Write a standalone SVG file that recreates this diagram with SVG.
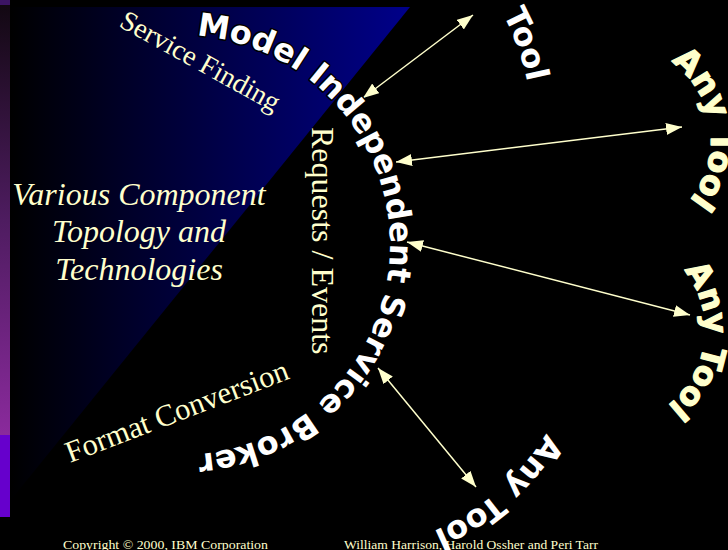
<svg xmlns="http://www.w3.org/2000/svg" width="728" height="550" viewBox="0 0 728 550">
<defs>
<linearGradient id="triGrad" x1="10" y1="0" x2="410" y2="0" gradientUnits="userSpaceOnUse">
<stop offset="0" stop-color="#000000"/><stop offset="1" stop-color="#00008a"/>
</linearGradient>
<linearGradient id="stripGrad" x1="0" y1="5" x2="0" y2="435" gradientUnits="userSpaceOnUse">
<stop offset="0" stop-color="#120812"/><stop offset="0.5" stop-color="#4e1c60"/><stop offset="1" stop-color="#8a2a9c"/>
</linearGradient>
<marker id="ah" viewBox="0 0 16 12" refX="16" refY="6" markerWidth="16" markerHeight="12" markerUnits="userSpaceOnUse" orient="auto-start-reverse">
<path d="M0,0 L16,6 L0,12 z" fill="#FFFFCC"/>
</marker>
<path id="arcMain" d="M143.53,38.19 A210,210 0 1 1 125.65,447.85"/>
<path id="arcTop" d="M287,-115 A245,245 0 0 1 532,130"/>
<path id="arcR1" d="M630.84,44.47 A97,97 0 0 1 630.84,235.53"/>
<path id="arcR2" d="M626.5,236.44 A95,95 0 0 1 626.5,423.56"/>
<path id="arcBot" d="M580,310 A240,240 0 0 1 220,517.85"/>
</defs>
<style>
.serif{fill:#FFFFCC;font-family:"Liberation Serif","Times New Roman",serif}
.wa{font-family:"DejaVu Sans",Verdana,sans-serif;font-weight:bold;font-size:32px}
.white{fill:#ffffff}
.outl{stroke:#000000;stroke-width:3;paint-order:stroke fill;stroke-linejoin:round}
.crm{fill:#FFFFCC;stroke:#FFFFCC;stroke-width:1.2;stroke-linejoin:round}
#connectors line{stroke:#FFFFCC;stroke-width:1.5;marker-start:url(#ah);marker-end:url(#ah)}
</style>
<rect width="728" height="550" fill="#000000"/>
<g id="background">
<rect x="0" y="0" width="10" height="5" fill="#3c1464"/>
<rect x="0" y="5" width="10" height="430" fill="url(#stripGrad)"/>
<rect x="0" y="435" width="10" height="82" fill="#6600cc"/>
<polygon points="10,7 410,7 10,501" fill="url(#triGrad)"/>
</g>
<g id="footer" class="serif" font-size="13.5">
<text x="63" y="549" textLength="205" lengthAdjust="spacingAndGlyphs">Copyright © 2000, IBM Corporation</text>
<text x="344" y="549" textLength="254" lengthAdjust="spacingAndGlyphs">William Harrison, Harold Ossher and Peri Tarr</text>
</g>
<g id="labels" class="serif">
<text x="118" y="26" font-size="28" transform="rotate(29 118 26)">Service Finding</text>
<g id="various" font-style="italic" font-size="32" text-anchor="middle">
<text x="139" y="205">Various Component</text>
<text x="139" y="242">Topology and</text>
<text x="139" y="280">Technologies</text>
</g>
<text font-size="32" transform="translate(312,127) rotate(90)">Requests / Events</text>
<text x="70" y="463" font-size="30.5" transform="rotate(-21 70 463)">Format Conversion</text>
</g>
<g id="connectors">
<line x1="363" y1="98" x2="473" y2="15"/>
<line x1="396" y1="162" x2="682" y2="127"/>
<line x1="407" y1="242" x2="690" y2="315"/>
<line x1="378" y1="368" x2="476" y2="487"/>
</g>
<g id="broker">
<text class="wa white outl"><textPath href="#arcMain" startOffset="53">Model Independent Service Broker</textPath></text>
</g>
<g id="tool-top">
<text class="wa white"><textPath href="#arcTop" startOffset="264">Tool</textPath></text>
</g>
<g id="tool-right-1">
<text class="wa crm"><textPath href="#arcR1" startOffset="44" font-size="33">Any Tool</textPath></text>
</g>
<g id="tool-right-2">
<text class="wa crm"><textPath href="#arcR2" startOffset="68">Any Tool</textPath></text>
</g>
<g id="tool-bottom">
<text class="wa white"><textPath href="#arcBot" startOffset="129">Any Tool</textPath></text>
</g>
</svg>
